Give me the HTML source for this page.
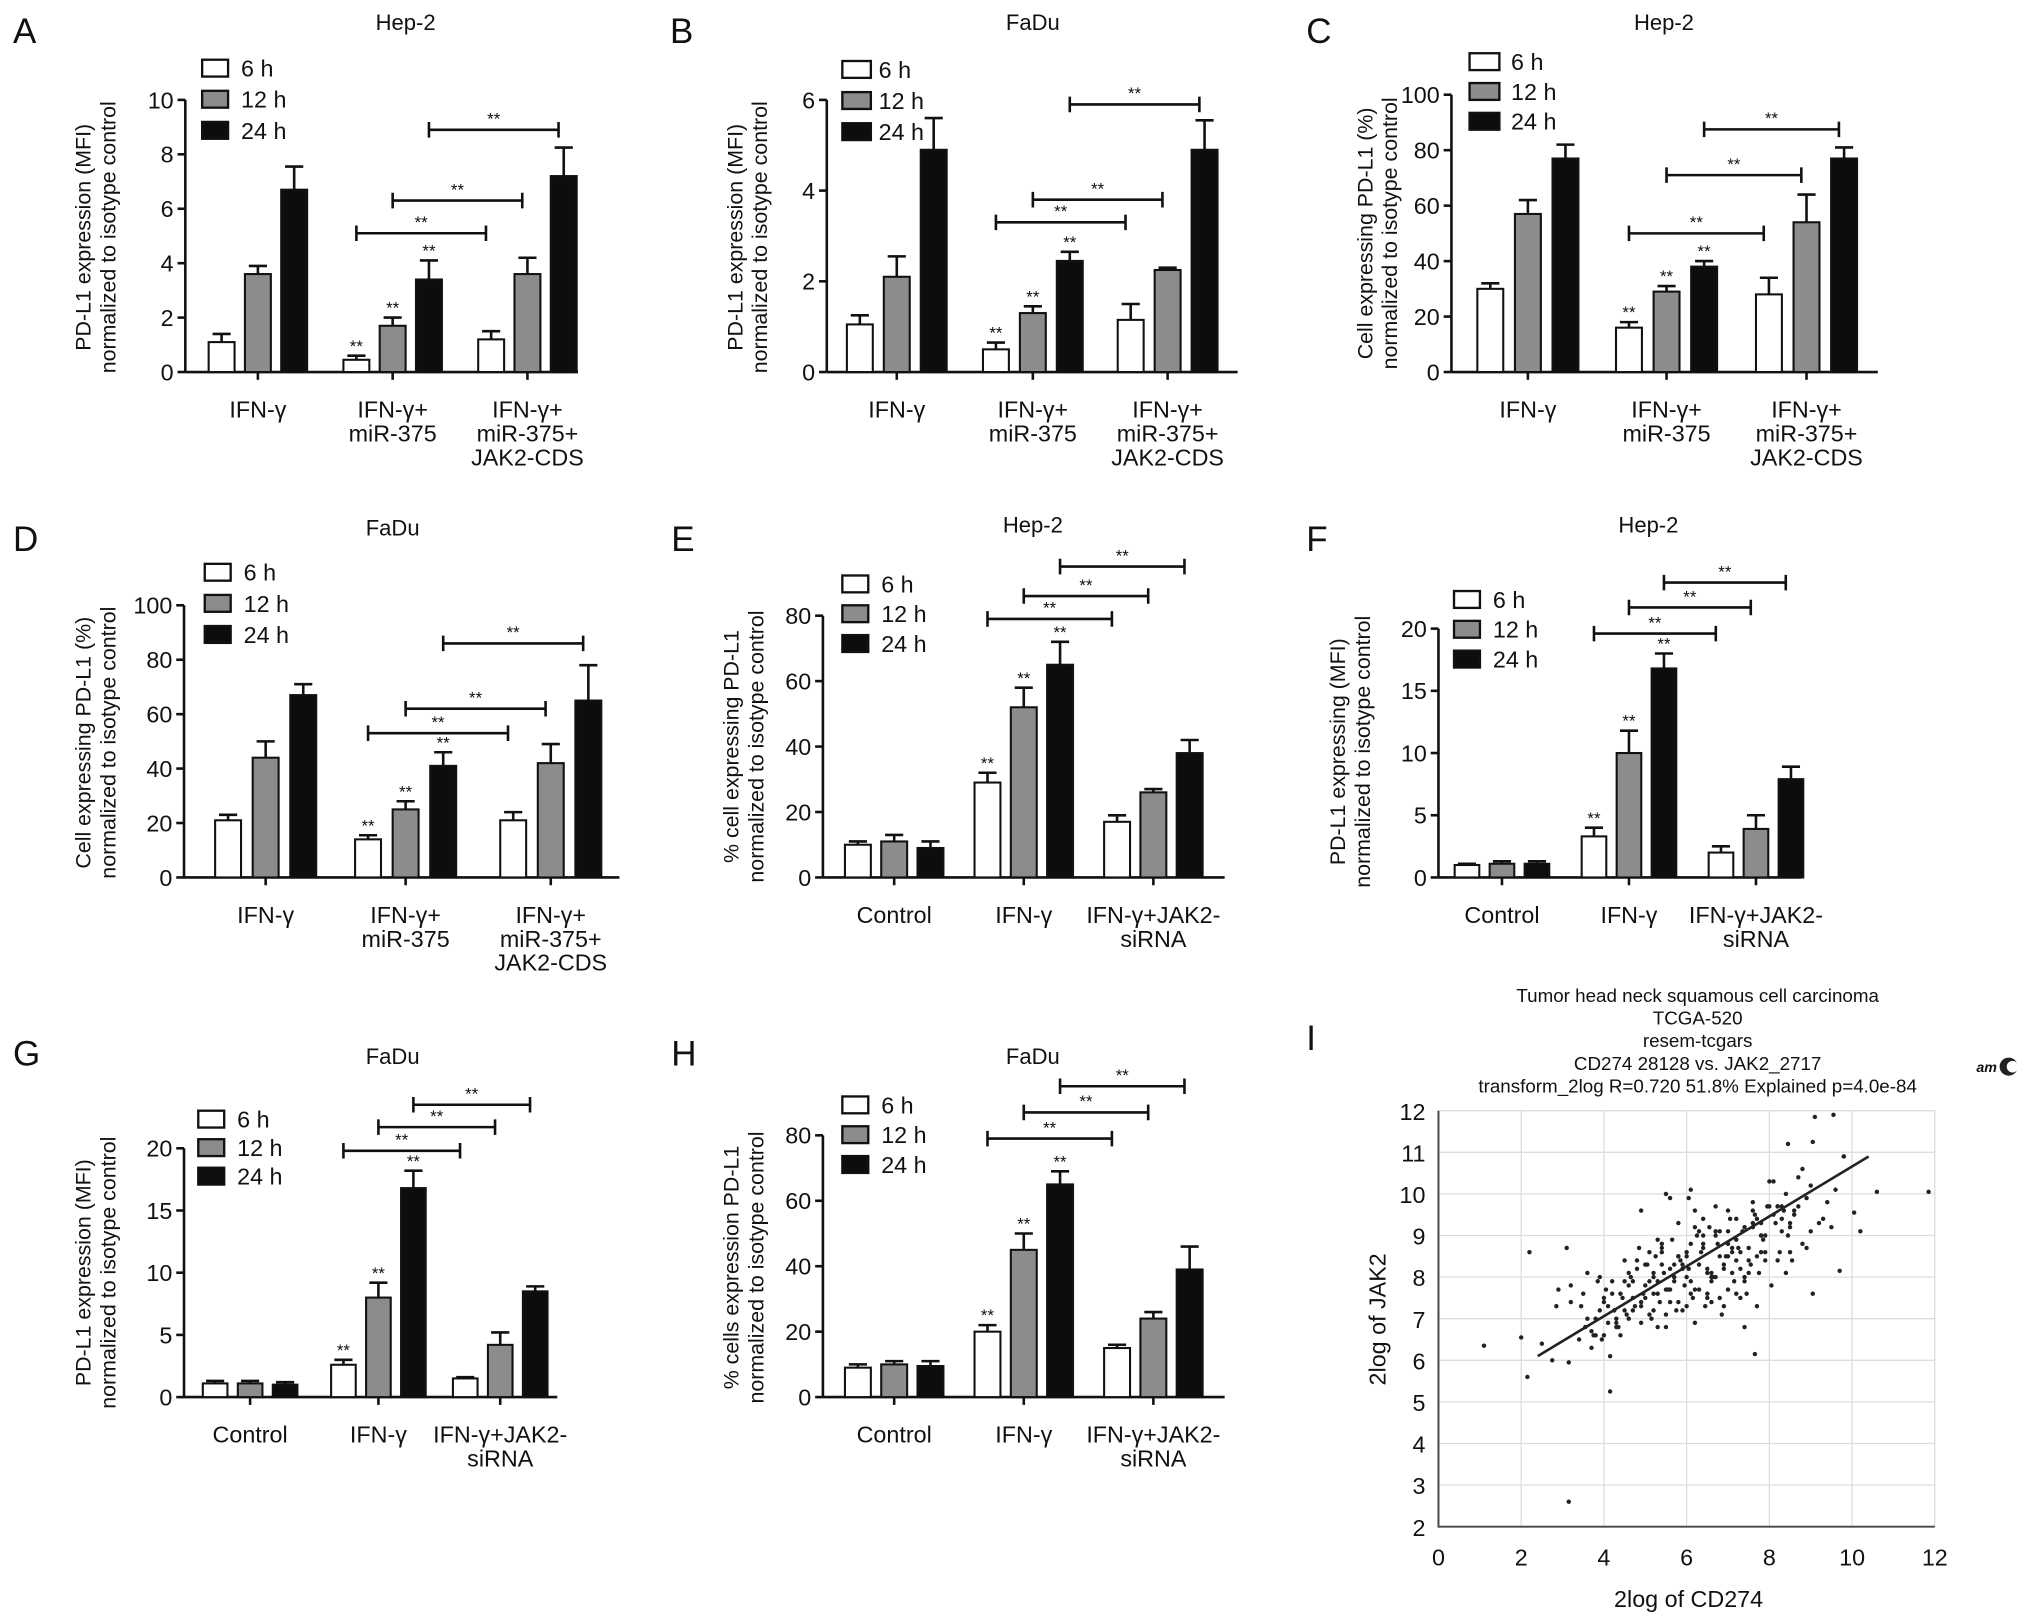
<!DOCTYPE html>
<html><head><meta charset="utf-8"><style>
html,body{margin:0;padding:0;background:#fff}
svg{display:block;font-family:"Liberation Sans",Arial,sans-serif}
</style></head><body>
<svg id="fig" width="2032" height="1624" viewBox="0 0 1568 1253" xmlns="http://www.w3.org/2000/svg"></svg>
<script>
// ---- Panel data ----
const seriesNames = ["6 h","12 h","24 h"];
const catsA = [["IFN-γ"],["IFN-γ+","miR-375"],["IFN-γ+","miR-375+","JAK2-CDS"]];
const catsE = [["Control"],["IFN-γ"],["IFN-γ+JAK2-","siRNA"]];
const valsA = [[1.1,3.6,6.7],[0.45,1.7,3.4],[1.2,3.6,7.2]];
const errsA = [[0.3,0.3,0.85],[0.15,0.3,0.7],[0.3,0.6,1.05]];
const brA = [5.1,6.3,8.9];
const valsB = [[1.05,2.1,4.9],[0.5,1.3,2.45],[1.15,2.25,4.9]];
const errsB = [[0.2,0.45,0.7],[0.15,0.15,0.2],[0.35,0.05,0.65]];
const brB = [3.3,3.8,5.9];
const valsC = [[30,57,77],[16,29,38],[28,54,77]];
const errsC = [[2,5,5],[2,2,2],[6,10,4]];
const brC = [50,71,87.5];
const valsD = [[21,44,67],[14,25,41],[21,42,65]];
const errsD = [[2,6,4],[1.5,3,5],[3,7,13]];
const brD = [53,62,86];
const valsE = [[10,11,9],[29,52,65],[17,26,38]];
const errsE = [[1,2,2],[3,6,7],[2,1,4]];
const brE = [79,86,95];
const valsF = [[1,1.1,1.1],[3.3,10,16.8],[2,3.9,7.9]];
const errsF = [[0.1,0.2,0.2],[0.7,1.8,1.2],[0.5,1.1,1]];
const brF = [19.6,21.7,23.7];
const valsG = [[1.1,1.1,1],[2.6,8,16.8],[1.5,4.2,8.5]];
const errsG = [[0.2,0.2,0.2],[0.4,1.2,1.4],[0.1,1,0.4]];
const brG = [19.8,21.7,23.5];
const valsH = [[9,10,9.5],[20,45,65],[15,24,39]];
const errsH = [[1,1,1.5],[2,5,4],[1,2,7]];
const brH = [79,87,95];
const ticksA = [0,2,4,6,8,10], ticksB=[0,2,4,6], ticksC=[0,20,40,60,80,100], ticksE=[0,20,40,60,80], ticksF=[0,5,10,15,20];
// scatter (CD274, JAK2)
const scX = [1.1,2.0,2.15,2.2,3.1,3.15,3.15,4.15,4.15,7.65,9.1,9.55,8.45,9.05,10.6,11.85,10.05,9.7,9.05,2.75,2.5,2.85,2.9,3.2,3.2,
3.4,3.5,3.6,3.7,3.8,3.9,4.0,4.1,4.2,4.3,4.4,4.5,4.6,4.7,4.8,4.9,5.0,5.1,5.2,5.3,5.4,5.5,5.6,5.7,5.8,5.9,6.0,6.1,6.2,6.3,6.4,6.5,6.6,6.7,6.8,6.9,7.0,7.1,7.2,7.3,7.4,7.5,7.6,7.7,7.8,7.9,8.0,8.1,8.2,8.3,8.4,8.5,8.6,8.7,8.8,8.9,9.0,9.2,9.4,9.6,9.8,
3.6,3.9,4.2,4.5,4.8,5.1,5.4,5.7,6.0,6.3,6.6,6.9,7.2,7.5,7.8,8.1,8.4,8.7,9.0,9.3,
3.7,4.0,4.3,4.6,4.9,5.2,5.5,5.8,6.1,6.4,6.7,7.0,7.3,7.6,7.9,8.2,8.5,8.8,
4.4,4.7,5.0,5.3,5.6,5.9,6.2,6.5,6.8,7.1,7.4,7.7,8.0,
4.9,5.5,6.1,6.7,5.6,6.05,8.9,9.5,9.8,10.2,8.3,7.4,6.5,5.3,
3.45,3.55,3.75,3.85,3.95,4.05,4.25,4.35,4.45,4.55,4.65,4.75,4.85,4.95,5.05,5.15,5.25,5.35,5.45,5.55,5.65,5.75,5.85,5.95,6.05,6.15,6.25,6.35,6.45,6.55,6.65,6.75,6.85,6.95,7.05,7.15,7.25,7.35,7.45,7.55,7.65,7.75,7.85,7.95,8.05,8.15,8.25,8.35,8.45,8.55,
4.0,4.3,4.6,4.9,5.2,5.5,5.8,6.1,6.4,6.7,7.0,7.3,7.6,7.9,8.2,8.5,4.1,4.7,5.3,5.9,6.5,7.1,7.7,8.3,
5.0,5.2,5.4,5.6,5.8,6.0,6.2,6.4,6.6,6.8,7.0,7.2,7.4,7.6,7.8,5.1,5.7,6.3,6.9,7.5,6.0,6.6,7.2,5.4,6.2,7.0,7.8,8.6,4.5,3.8];
const scY = [6.35,6.55,5.6,8.6,8.7,2.6,5.95,5.25,6.1,6.15,11.85,11.9,11.2,11.25,10.05,10.05,9.55,8.15,7.6,6.0,6.4,7.3,7.7,7.8,7.4,
6.5,7.6,8.1,6.3,7.0,8.0,6.6,7.3,7.9,6.9,7.6,8.4,7.0,7.5,8.2,6.9,7.8,8.6,7.2,7.9,8.7,6.8,7.4,8.3,9.3,7.2,8.0,8.8,6.9,7.7,9.4,8.2,7.4,9.0,8.5,7.3,9.6,8.1,8.9,7.5,9.2,8.4,9.8,7.3,9.0,8.6,9.7,10.3,8.4,9.1,10.0,8.6,9.5,10.4,8.8,9.9,10.2,9.3,9.8,10.1,10.9,
7.0,7.2,7.6,7.9,8.4,7.1,8.3,7.9,8.6,9.1,8.0,8.3,9.4,8.7,9.3,9.5,8.1,9.7,9.1,9.4,
6.7,7.4,6.8,8.1,7.3,8.0,7.1,8.5,7.6,8.7,9.1,7.7,8.2,9.6,8.4,9.7,9.3,10.6,
6.6,7.9,7.5,8.9,7.7,8.2,9.6,7.6,9.1,8.6,8.0,9.4,10.3,
9.6,10.0,10.1,9.7,9.9,9.9,8.7,9.2,10.9,9.1,9.7,6.8,7.5,6.8,
7.3,6.8,6.6,7.9,6.5,7.7,7.2,6.8,7.5,7.1,8.0,7.3,8.7,7.6,8.3,7.0,8.5,7.4,8.1,7.7,8.9,7.2,8.4,7.8,8.2,7.5,9.0,8.6,7.3,9.2,8.0,8.8,7.1,8.5,9.4,7.9,8.7,9.1,7.6,8.3,9.5,8.1,8.9,9.7,7.8,9.3,8.6,9.6,9.0,8.4,
7.5,7.0,7.8,7.4,8.1,7.7,8.5,7.9,8.8,8.0,9.1,8.6,9.3,9.0,9.7,9.2,6.9,7.2,7.6,8.3,8.1,8.7,8.5,9.4,
8.3,7.6,8.6,8.2,7.4,8.5,7.7,9.0,8.1,7.5,8.8,8.4,7.9,9.2,8.6,7.9,8.0,8.3,8.2,8.1,7.3,7.9,7.6,8.8,9.2,8.5,9.0,9.6,7.2,6.6];
const fitX = [2.4,10.4], fitY = [6.1,10.9];

const svg = document.getElementById('fig');
const NS="http://www.w3.org/2000/svg";
function mk(tag, attrs, parent){const e=document.createElementNS(NS,tag);for(const k in attrs)e.setAttribute(k,attrs[k]);(parent||svg).appendChild(e);return e;}
function txt(s,x,y,size,anchor,parent,extra){const t=mk('text',Object.assign({x:x,y:y,'font-size':size,'text-anchor':anchor||'middle',fill:'#111'},extra||{}),parent);t.textContent=s;return t;}
const fills=["#ffffff","#8c8c8c","#0d0d0d"];

function barPanel(p){
  const g=mk('g',{});
  
  
  const yS=v=>p.y0-(v/p.ymax)*(p.y0-p.ytop);
  const L=txt(p.id,p.letter[0],p.letter[1],27,'start',g);
  
  const T=txt(p.title,p.tx,p.ty,17,'middle',g);
  
  const ax=mk('line',{x1:p.ax,y1:p.y0,x2:p.ax,y2:yS(p.ticks[p.ticks.length-1]),stroke:'#111','stroke-width':2},g);
  
  p.ticks.forEach(t=>{mk('line',{x1:p.ax-6,x2:p.ax,y1:yS(t),y2:yS(t),stroke:'#111','stroke-width':2},g);
    const tl=txt(String(t),p.ax-9,yS(t)+6.5,18,'end',g);});
  const xa=mk('line',{x1:p.ax,y1:p.y0,x2:p.axR,y2:p.y0,stroke:'#111','stroke-width':2},g);
  
  const yl=mk('text',{transform:`translate(${p.ylx},${p.yly}) rotate(-90)`,'font-size':16.5,'text-anchor':'middle',fill:'#111'},g);
  
  p.ylab.forEach((s,i)=>{const ts=mk('tspan',{x:0,dy:i?19:0},yl);ts.textContent=s;});
  const bx=(gi,si)=>p.gc[gi]+(si-1)*p.step;
  p.vals.forEach((grp,gi)=>{
    mk('line',{x1:p.gc[gi],x2:p.gc[gi],y1:p.y0,y2:p.y0+6,stroke:'#111','stroke-width':2},g);
    p.cats[gi].forEach((s,li)=>{const c=txt(s,p.gc[gi],p.y0+35+li*18.5,18,'middle',g);});
    grp.forEach((v,si)=>{
      const x=bx(gi,si), top=yS(v), et=yS(v+p.errs[gi][si]);
      const eb=mk('line',{x1:x,x2:x,y1:top,y2:et,stroke:'#111','stroke-width':2},g);
      
      mk('line',{x1:x-7,x2:x+7,y1:et,y2:et,stroke:'#111','stroke-width':2},g);
      const r=mk('rect',{x:x-p.bw/2,y:top,width:p.bw,height:p.y0-top,fill:fills[si],stroke:'#111','stroke-width':1.6},g);
      
      if(gi===p.starG){const st=txt('**',x,et-3,13,'middle',g);}
    });
  });
  p.br.forEach((v,si)=>{
    const y=yS(v),x1=bx(p.starG,si),x2=bx(p.starG+1,si)-4;
    const b=mk('path',{d:`M${x1},${y-6}V${y+6}M${x1},${y}H${x2}M${x2},${y-6}V${y+6}`,stroke:'#111','stroke-width':2,fill:'none'},g);
    
    txt('**',(x1+x2)/2,y-4,13,'middle',g);
  });
  seriesNames.forEach((s,i)=>{
    const ly=p.leg[1]+i*p.legStep;
    const lr=mk('rect',{x:p.leg[0],y:ly-13,width:p.legW||20,height:13,fill:fills[i],stroke:'#111','stroke-width':1.8},g);
    
    const lt=txt(s,p.leg[0]+(p.legT||30),ly,18,'start',g);
  });
}
const ylMFI=["PD-L1 expression (MFI)","normalized to isotype control"];
const ylPct=["Cell expressing PD-L1 (%)","normalized to isotype control"];
barPanel({id:'A',letter:[10,33],title:'Hep-2',tx:313,ty:23,ax:143,axR:446,y0:287,ytop:77,ymax:10,ticks:ticksA,gc:[199,303,407],step:28,bw:20,vals:valsA,errs:errsA,br:brA,starG:1,cats:catsA,leg:[156,59],legStep:24,ylab:ylMFI,ylx:70,yly:183});
barPanel({id:'B',letter:[517,33],title:'FaDu',tx:797,ty:23,ax:638,axR:955,y0:287,ytop:77,ymax:6,ticks:ticksB,gc:[692,797,901],step:28.5,bw:20,vals:valsB,errs:errsB,br:brB,starG:1,cats:catsA,leg:[650,60],legStep:24,legW:22,legT:28,ylab:ylMFI,ylx:573,yly:183});
barPanel({id:'C',letter:[1008,33],title:'Hep-2',tx:1284,ty:23,ax:1120,axR:1449,y0:287,ytop:73,ymax:100,ticks:ticksC,gc:[1179,1286,1394],step:29,bw:20,vals:valsC,errs:errsC,br:brC,starG:1,cats:catsA,leg:[1134,54],legStep:23,legW:23,legT:32,ylab:ylPct,ylx:1059,yly:180});
barPanel({id:'D',letter:[10,425],title:'FaDu',tx:303,ty:413,ax:142,axR:478,y0:677,ytop:467,ymax:100,ticks:ticksC,gc:[205,313,425],step:29,bw:20,vals:valsD,errs:errsD,br:brD,starG:1,cats:catsA,leg:[158,448],legStep:24,ylab:ylPct,ylx:70,yly:573});
barPanel({id:'E',letter:[518,425],title:'Hep-2',tx:797,ty:411,ax:635,axR:945,y0:677,ytop:475,ymax:80,ticks:ticksE,gc:[690,790,890],step:28,bw:20,vals:valsE,errs:errsE,br:brE,starG:1,cats:catsE,leg:[650,457],legStep:23,ylab:["% cell expressing PD-L1","normalized to isotype control"],ylx:570,yly:576});
barPanel({id:'F',letter:[1008,425],title:'Hep-2',tx:1272,ty:411,ax:1110,axR:1390,y0:677,ytop:485,ymax:20,ticks:ticksF,gc:[1159,1257,1355],step:27,bw:19,vals:valsF,errs:errsF,br:brF,starG:1,cats:catsE,leg:[1122,469],legStep:23,ylab:["PD-L1 expressing (MFI)","normalized to isotype control"],ylx:1038,yly:580});
barPanel({id:'G',letter:[10,822],title:'FaDu',tx:303,ty:821,ax:142,axR:430,y0:1078,ytop:886,ymax:20,ticks:ticksF,gc:[193,292,386],step:27,bw:19,vals:valsG,errs:errsG,br:brG,starG:1,cats:catsE,leg:[153,870],legStep:22,ylab:ylMFI,ylx:70,yly:982});
barPanel({id:'H',letter:[518,822],title:'FaDu',tx:797,ty:821,ax:635,axR:945,y0:1078,ytop:876,ymax:80,ticks:ticksE,gc:[690,790,890],step:28,bw:20,vals:valsH,errs:errsH,br:brH,starG:1,cats:catsE,leg:[650,859],legStep:23,ylab:["% cells expression PD-L1","normalized to isotype control"],ylx:570,yly:978});

// ---- Panel I scatter ----
(function(){
  const g=mk('g',{});
  
  
  const X0=1110,X1=1493,Y0=1178,Y1=857;
  const xS=v=>X0+v/12*(X1-X0), yS=v=>Y0-(v-2)/10*(Y0-Y1);
  const L=txt('I',1008,810,27,'start',g);
  ["Tumor head neck squamous cell carcinoma","TCGA-520","resem-tcgars","CD274 28128 vs. JAK2_2717","transform_2log R=0.720 51.8% Explained p=4.0e-84"].forEach((s,i)=>{
    const t=txt(s,1310,773+i*17.5,14.5,'middle',g);});
  const logo=mk('g',{},g);
  txt('am',1533,827,11,'middle',logo,{'font-style':'italic','font-weight':'bold'});
  mk('circle',{cx:1550,cy:823,r:7,fill:'#222'},logo);mk('circle',{cx:1553,cy:823,r:4.5,fill:'#fff'},logo);
  for(let v=2;v<=12;v++){mk('line',{x1:X0,x2:X1,y1:yS(v),y2:yS(v),stroke:'#ddd','stroke-width':1},g);
    const t=txt(String(v),X0-10,yS(v)+7,18,'end',g);}
  for(let v=0;v<=12;v+=2){mk('line',{x1:xS(v),x2:xS(v),y1:Y0,y2:Y1,stroke:'#ddd','stroke-width':1},g);
    const t=txt(String(v),xS(v),Y0+30,18,'middle',g);}
  const ax=mk('path',{d:`M${X0},${Y1}V${Y0}H${X1}`,stroke:'#444','stroke-width':1.5,fill:'none'},g);
  
  const xt=txt('2log of CD274',1303,1240,18,'middle',g);
  const yt=txt('2log of JAK2',0,0,18,'middle',g,{transform:'translate(1069,1018) rotate(-90)'});
  scX.forEach((x,i)=>{const c=mk('circle',{cx:xS(x),cy:yS(scY[i]),r:1.7,fill:'#222'},g);
    });
  const fl=mk('line',{x1:xS(fitX[0]),y1:yS(fitY[0]),x2:xS(fitX[1]),y2:yS(fitY[1]),stroke:'#222','stroke-width':2},g);
  
})();
</script>
</body></html>
